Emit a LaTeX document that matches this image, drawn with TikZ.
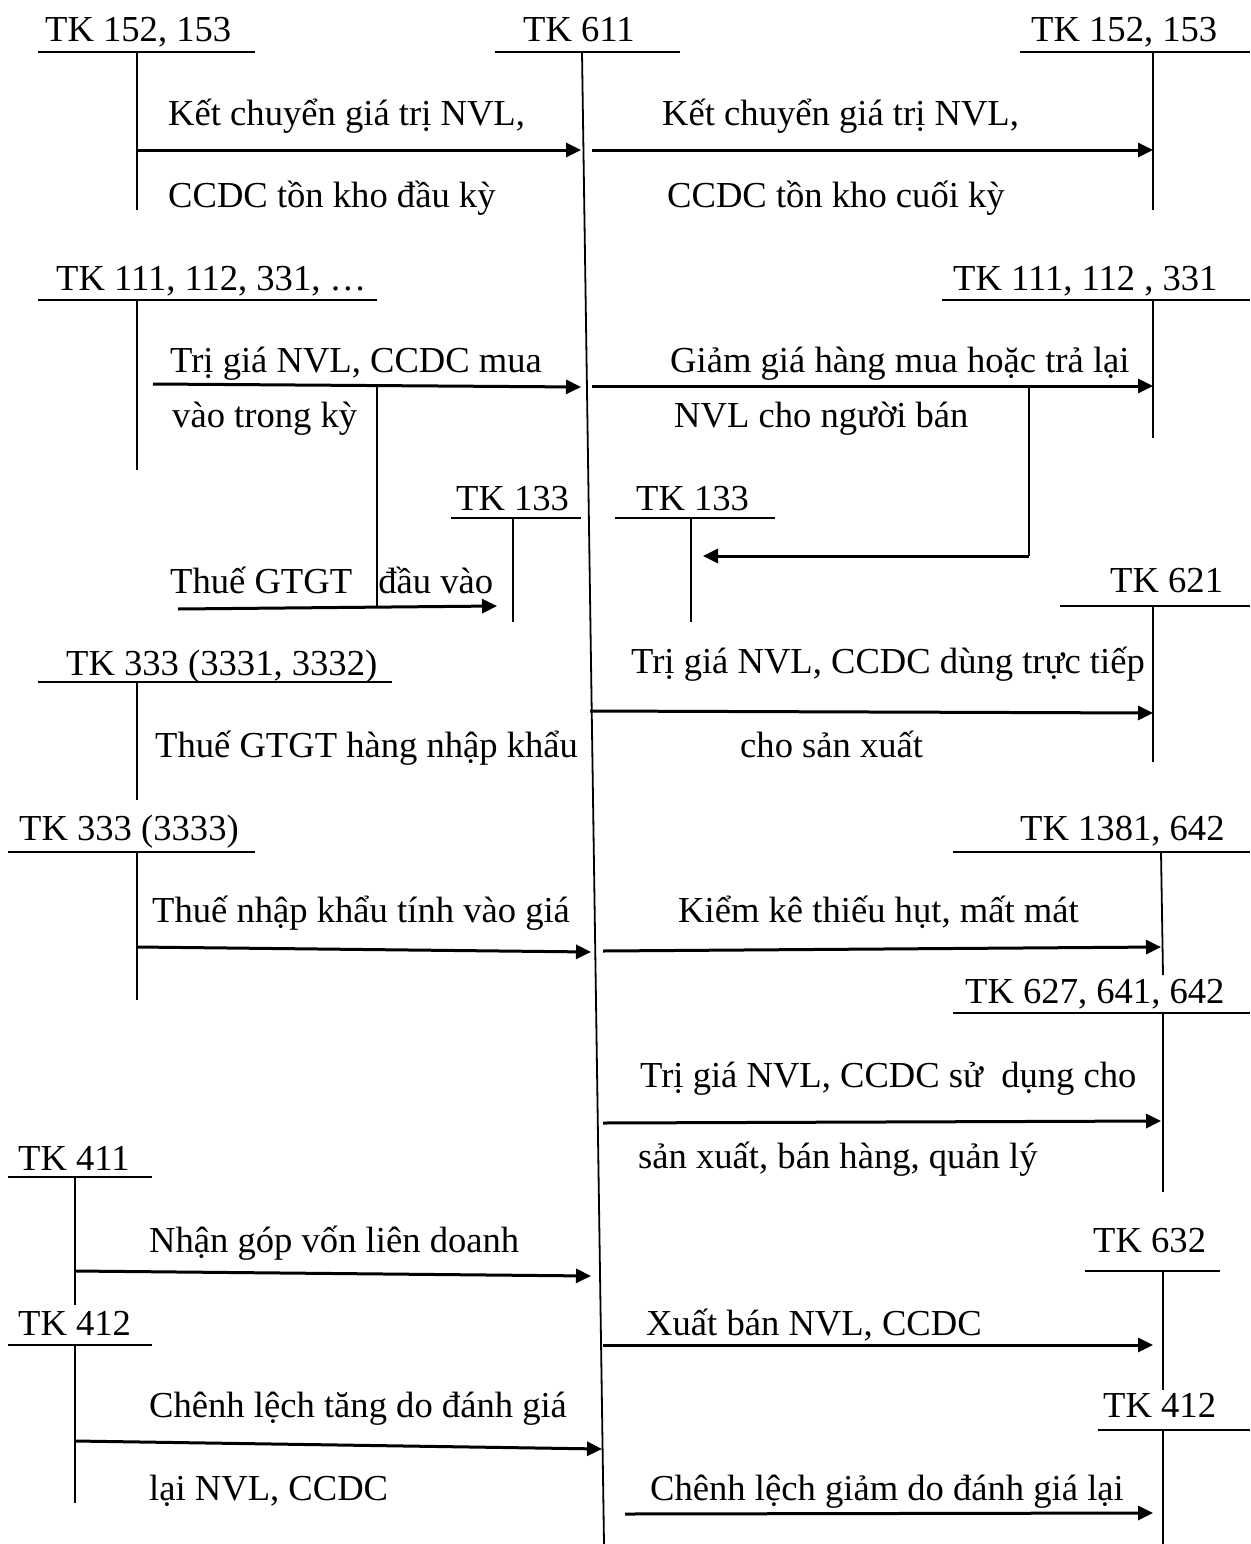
\documentclass[tikz,border=0pt]{standalone}
\usepackage{fontspec}
\setmainfont{Liberation Serif}
\usetikzlibrary{arrows.meta}
\begin{document}
\begin{tikzpicture}[x=1pt,y=-1pt,
  lbl/.style={anchor=base west, inner sep=0pt, font=\fontsize{36.6}{44}\selectfont},
  hline/.style={line width=2.5pt},
  vline/.style={line width=1.8pt},
  flow/.style={line width=3pt, -{Triangle[length=15pt,width=14pt]}}]
\useasboundingbox (0,0) rectangle (1250,1544);

% ---------- account titles ----------
\node[lbl] (t611)  at (523,42)   {TK 611};
\node[lbl] (tl152) at (45,42)    {TK 152, 153};
\node[lbl] (tr152) at (1031,42)  {TK 152, 153};
\node[lbl] (tl111) at (56,290)   {TK 111, 112, 331, \ldots};
\node[lbl] (tr111) at (953,290)  {TK 111, 112 , 331};
\node[lbl] (tl133) at (456,510)  {TK 133};
\node[lbl] (tr133) at (636,510)  {TK 133};
\node[lbl] (t621)  at (1110,592) {TK 621};
\node[lbl] (t333a) at (66,675)   {TK 333 (3331, 3332)};
\node[lbl] (t333b) at (19,840)   {TK 333 (3333)};
\node[lbl] (t1381) at (1020,840) {TK 1381, 642};
\node[lbl] (t627)  at (965,1003) {TK 627, 641, 642};
\node[lbl] (t411)  at (18,1170)  {TK 411};
\node[lbl] (t632)  at (1093,1252) {TK 632};
\node[lbl] (tl412) at (18,1335)  {TK 412};
\node[lbl] (tr412) at (1103,1417) {TK 412};

% ---------- labels ----------
\node[lbl] (l1a) at (168,125)  {Kết chuyển giá trị NVL,};
\node[lbl] (l1b) at (168,207)  {CCDC tồn kho đầu kỳ};
\node[lbl] (l2a) at (662,125)  {Kết chuyển giá trị NVL,};
\node[lbl] (l2b) at (667,207)  {CCDC tồn kho cuối kỳ};
\node[lbl] (l3a) at (170,372)  {Trị giá NVL, CCDC mua};
\node[lbl] (l3b) at (172,427)  {vào trong kỳ};
\node[lbl] (l4a) at (670,372)  {Giảm giá hàng mua hoặc trả lại};
\node[lbl] (l4b) at (674,427)  {NVL cho người bán};
\node[lbl] (l5)  at (170,593)  {Thuế GTGT\hspace{17pt} đầu vào};
\node[lbl] (l6a) at (631,673)  {Trị giá NVL, CCDC dùng trực tiếp};
\node[lbl] (l6b) at (740,757)  {cho sản xuất};
\node[lbl] (l7)  at (155,757)  {Thuế GTGT hàng nhập khẩu};
\node[lbl] (l8)  at (152,922)  {Thuế nhập khẩu tính vào giá};
\node[lbl] (l9)  at (678,922)  {Kiểm kê thiếu hụt, mất mát};
\node[lbl] (l10a) at (640,1087) {Trị giá NVL, CCDC sử~ dụng cho};
\node[lbl] (l10b) at (638,1168) {sản xuất, bán hàng, quản lý};
\node[lbl] (l11) at (149,1252) {Nhận góp vốn liên doanh};
\node[lbl] (l12) at (646,1335) {Xuất bán NVL, CCDC};
\node[lbl] (l13a) at (149,1417) {Chênh lệch tăng do đánh giá};
\node[lbl] (l13b) at (149,1500) {lại NVL, CCDC};
\node[lbl] (l14) at (650,1500) {Chênh lệch giảm do đánh giá lại};

% ---------- T-accounts ----------
\draw[hline] (495,52) -- (680,52);   \draw[vline] (582,52) -- (604,1544);
\draw[hline] (38,52) -- (255,52);    \draw[vline] (137,52) -- (137,210);
\draw[hline] (1020,52) -- (1250,52); \draw[vline] (1153,52) -- (1153,210);
\draw[hline] (38,300) -- (377,300);  \draw[vline] (137,300) -- (137,470);
\draw[hline] (942,300) -- (1250,300); \draw[vline] (1153,300) -- (1153,438);
\draw[hline] (451,518) -- (581,518); \draw[vline] (513,518) -- (513,622);
\draw[hline] (615,518) -- (775,518); \draw[vline] (691,518) -- (691,622);
\draw[hline] (1060,606) -- (1250,606); \draw[vline] (1153,606) -- (1153,762);
\draw[hline] (38,682) -- (392,682);  \draw[vline] (137,682) -- (137,800);
\draw[hline] (8,852) -- (255,852);   \draw[vline] (137,852) -- (137,1000);
\draw[hline] (953,852) -- (1250,852); \draw[vline] (1161,852) -- (1163,975);
\draw[hline] (953,1013) -- (1250,1013); \draw[vline] (1163,1013) -- (1163,1192);
\draw[hline] (8,1177) -- (152,1177); \draw[vline] (75,1177) -- (75,1305);
\draw[hline] (8,1345) -- (152,1345); \draw[vline] (75,1345) -- (75,1503);
\draw[hline] (1085,1271) -- (1220,1271); \draw[vline] (1163,1271) -- (1163,1390);
\draw[hline] (1098,1430) -- (1250,1430); \draw[vline] (1163,1430) -- (1163,1544);

% ---------- connector end points ----------
\coordinate (a1s) at (137,150);  \coordinate (a1e) at (581,150);
\coordinate (a2s) at (592,150);  \coordinate (a2e) at (1153,150);
\coordinate (a3s) at (153,384);  \coordinate (a3e) at (581,387);
\coordinate (a4s) at (592,386);  \coordinate (a4e) at (1153,386);
\coordinate (b3)  at (377,386);  \coordinate (b3d) at (377,607);
\coordinate (a5s) at (178,609);  \coordinate (a5e) at (497,606);
\coordinate (b4)  at (1029,386); \coordinate (b4d) at (1029,556);
\coordinate (a6e) at (703,556);
\coordinate (a7s) at (590,711);  \coordinate (a7e) at (1153,713);
\coordinate (a8s) at (137,947);  \coordinate (a8e) at (591,952);
\coordinate (a9s) at (603,951);  \coordinate (a9e) at (1161,947);
\coordinate (a10s) at (603,1123); \coordinate (a10e) at (1161,1121);
\coordinate (a11s) at (75,1271); \coordinate (a11e) at (591,1276);
\coordinate (a12s) at (603,1345); \coordinate (a12e) at (1153,1345);
\coordinate (a13s) at (75,1441); \coordinate (a13e) at (602,1449);
\coordinate (a14s) at (625,1514); \coordinate (a14e) at (1153,1513);

% ---------- connectors ----------
\draw[flow] (a1s) -- (a1e);
\draw[flow] (a2s) -- (a2e);
\draw[flow] (a3s) -- (a3e);
\draw[flow] (a4s) -- (a4e);
\draw[vline] (b3) -- (b3d);
\draw[flow] (a5s) -- (a5e);
\draw[vline] (b4) -- (b4d);
\draw[flow] (b4d) -- (a6e);
\draw[flow] (a7s) -- (a7e);
\draw[flow] (a8s) -- (a8e);
\draw[flow] (a9s) -- (a9e);
\draw[flow] (a10s) -- (a10e);
\draw[flow] (a11s) -- (a11e);
\draw[flow] (a12s) -- (a12e);
\draw[flow] (a13s) -- (a13e);
\draw[flow] (a14s) -- (a14e);
\end{tikzpicture}
\end{document}
